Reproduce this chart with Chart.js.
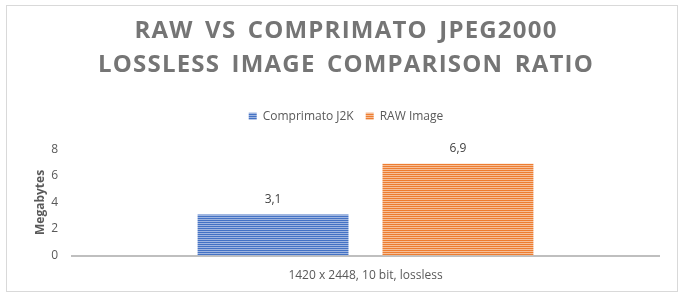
<!DOCTYPE html>
<html>
<head>
<meta charset="utf-8">
<script src="https://cdn.jsdelivr.net/npm/chart.js@4"></script>
<style>
html,body{margin:0;padding:0;background:#fff;}
#wrap{position:absolute;left:0;top:0;width:688px;height:302px;}
</style>
</head>
<body>
<div id="wrap"><canvas id="c" width="688" height="302"></canvas></div>
<script>
const categories = ["1420 x 2448, 10 bit, lossless"];
const seriesNames = ["Comprimato J2K", "RAW Image"];
const comprimatoValues = [3.1];
const rawValues = [6.9];
const yTicks = [0, 2, 4, 6, 8];
const titleLines = ["RAW VS COMPRIMATO JPEG2000", "LOSSLESS IMAGE COMPARISON RATIO"];

function stripe(color, light) {
  const p = document.createElement('canvas');
  p.width = 4; p.height = 2;
  const g = p.getContext('2d');
  g.fillStyle = color; g.fillRect(0, 0, 4, 1);
  g.fillStyle = light; g.fillRect(0, 1, 4, 1);
  return g.createPattern(p, 'repeat');
}
const bluePat = stripe('#4472C4', '#9fb5e0');
const orangePat = stripe('#ED7D31', '#f6bf98');

const borderPlugin = {
  id: 'frame',
  beforeDraw(chart) {
    const c = chart.ctx;
    c.save();
    c.fillStyle = '#fff';
    c.fillRect(0, 0, chart.width, chart.height);
    c.strokeStyle = '#d9d9d9';
    c.lineWidth = 1;
    c.strokeRect(6.5, 5.5, 671, 286);
    c.restore();
  }
};

const legendSpace = {
  id: 'legendSpace',
  beforeInit(chart) {
    const lg = chart.legend;
    if (lg) {
      const origFit = lg.fit;
      lg.fit = function () { origFit.apply(this, arguments); this.height += 17; };
    }
  }
};

const chart = new Chart(document.getElementById('c'), {
  type: 'bar',
  data: {
    labels: categories,
    datasets: [
      { label: seriesNames[0], data: comprimatoValues, backgroundColor: bluePat, borderWidth: 0 },
      { label: seriesNames[1], data: rawValues, backgroundColor: orangePat, borderWidth: 0 }
    ]
  },
  options: {
    responsive: false,
    animation: false,
    devicePixelRatio: 1,
    categoryPercentage: 0.63,
    barPercentage: 0.816,
    layout: { padding: { left: 33, right: 29, top: 15, bottom: 6 } },
    plugins: {
      title: {
        display: true,
        text: titleLines,
        color: '#757575',
        font: { family: 'Open Sans', size: 24, weight: 'bold', lineHeight: 1.38 },
        padding: { top: 0, bottom: 17 }
      },
      legend: {
        display: true,
        position: 'top',
        labels: {
          boxWidth: 8, boxHeight: 7,
          color: '#595959',
          font: { family: 'Open Sans', size: 12 },
          padding: 12
        }
      },
      tooltip: { enabled: false }
    },
    scales: {
      x: {
        grid: { display: false, drawTicks: false },
        border: { display: true, color: '#bfbfbf', width: 2 },
        ticks: { color: '#595959', font: { family: 'Open Sans', size: 12 }, padding: 13 }
      },
      y: {
        min: 0, max: 8,
        afterBuildTicks(axis) { axis.ticks = yTicks.map(v => ({ value: v })); },
        afterFit(axis) { axis.width = 39; },
        grid: { display: false, drawTicks: false },
        border: { display: false },
        ticks: { color: '#595959', font: { family: 'Open Sans', size: 12 }, padding: 14 },
        title: { display: true, text: 'Megabytes', color: '#595959', font: { family: 'Open Sans', size: 12, weight: 'bold' }, padding: 0 }
      }
    }
  },
  plugins: [borderPlugin, legendSpace, {
    id: 'barLabels',
    afterDatasetsDraw(chart) {
      const c = chart.ctx;
      c.save();
      c.fillStyle = '#404040';
      c.font = '12px "Open Sans"';
      c.textAlign = 'center';
      c.textBaseline = 'middle';
      chart.data.datasets.forEach((ds, i) => {
        chart.getDatasetMeta(i).data.forEach((bar, j) => {
          c.fillText(String(ds.data[j]).replace('.', ','), bar.x, bar.y - 15);
        });
      });
      c.restore();
    }
  }]
});

const tb = chart.titleBlock;
const origDraw = tb.draw;
tb.draw = function () {
  const c = this.ctx;
  c.save();
  c.letterSpacing = '1.2px';
  c.wordSpacing = '4px';
  origDraw.apply(this, arguments);
  c.restore();
};
chart.draw();
</script>
</body>
</html>
